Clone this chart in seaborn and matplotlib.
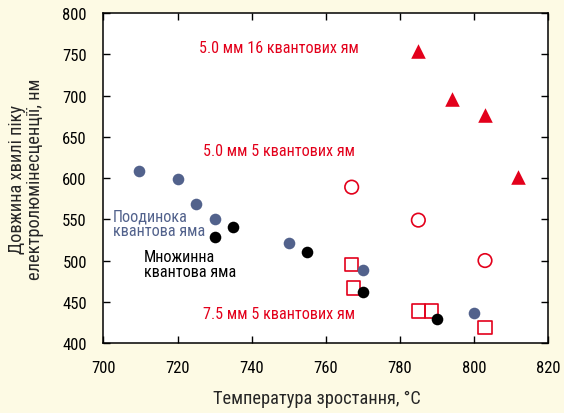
import matplotlib
matplotlib.use("Agg")
import matplotlib.pyplot as plt
import seaborn as sns
import pandas as pd

# Single quantum well (blue dots)
single_t = [709.5, 720, 725, 730, 750, 770, 800]
single_wl = [608, 599, 569, 550, 521, 488, 436]

# Multiple quantum wells (black dots)
multi_t = [730, 735, 755, 770, 790]
multi_wl = [529, 541, 510, 462, 429]

# 5.0 mm, 16 quantum wells (filled triangles)
qw16_t = [785, 794, 803, 812]
qw16_wl = [754, 696, 677, 601]

# 5.0 mm, 5 quantum wells (open circles)
qw5_t = [767, 785, 803]
qw5_wl = [589, 549, 500]

# 7.5 mm, 5 quantum wells (open squares)
qw75_t = [767, 767.5, 785, 788.5, 803]
qw75_wl = [495, 467, 439, 439, 419]

x_ticks = [700, 720, 740, 760, 780, 800, 820]
y_ticks = [400, 450, 500, 550, 600, 650, 700, 750, 800]

BG = "#fdfae4"
BLUE = "#52628c"
RED = "#e3001b"

sns.set_style("ticks")
plt.rcParams["font.family"] = ["Roboto Condensed", "Liberation Sans", "DejaVu Sans"]

fig = plt.figure(figsize=(5.64, 4.14), dpi=100, facecolor=BG)
ax = fig.add_axes([0.1835, 0.169, 0.9716 - 0.1835, 0.966 - 0.169])
ax.set_facecolor("white")

sns.scatterplot(x=single_t, y=single_wl, ax=ax, marker="o", s=70,
                color=BLUE, edgecolor=BLUE, linewidth=0, zorder=3)
sns.scatterplot(x=multi_t, y=multi_wl, ax=ax, marker="o", s=70,
                color="black", edgecolor="black", linewidth=0, zorder=3)
sns.scatterplot(x=qw16_t, y=qw16_wl, ax=ax, marker="^", s=110,
                color=RED, edgecolor=RED, linewidth=0, zorder=3)
sns.scatterplot(x=qw5_t, y=qw5_wl, ax=ax, marker="o", s=95,
                facecolor="none", edgecolor=RED, linewidth=1.2, zorder=3)
sns.scatterplot(x=qw75_t, y=qw75_wl, ax=ax, marker="s", s=95,
                facecolor="none", edgecolor=RED, linewidth=1.2, zorder=2)

ax.set_xlim(700, 820)
ax.set_ylim(400, 800)
ax.set_xticks(x_ticks)
ax.set_yticks(y_ticks)

ax.tick_params(direction="in", length=5, width=1, top=True, right=True,
               labelsize=12, colors="black")
ax.tick_params(axis="x", pad=12.5)
ax.tick_params(axis="y", pad=12)
for s in ax.spines.values():
    s.set_visible(True)
    s.set_linewidth(1.1)
    s.set_color("black")

ax.set_xlabel("Температура зростання, °C", fontsize=13.2, labelpad=10, x=0.48)
ax.set_ylabel("Довжина хвилі піку\nелектролюмінесценції, нм", fontsize=13.2,
              labelpad=13, linespacing=0.98)

ax.text(747.5, 758, "5.0 мм 16 квантових ям", color=RED, fontsize=11.6,
        ha="center", va="center")
ax.text(747.5, 633, "5.0 мм 5 квантових ям", color=RED, fontsize=11.6,
        ha="center", va="center")
ax.text(747.5, 436, "7.5 мм 5 квантових ям", color=RED, fontsize=11.6,
        ha="center", va="center")
ax.text(702.5, 545, "Поодинока\nквантова яма", color=BLUE, fontsize=11.6,
        ha="left", va="center", linespacing=0.95)
ax.text(711, 496, "Множинна\nквантова яма", color="black", fontsize=11.6,
        ha="left", va="center", linespacing=0.95)

fig.savefig("out.png", dpi=100, facecolor=BG)
